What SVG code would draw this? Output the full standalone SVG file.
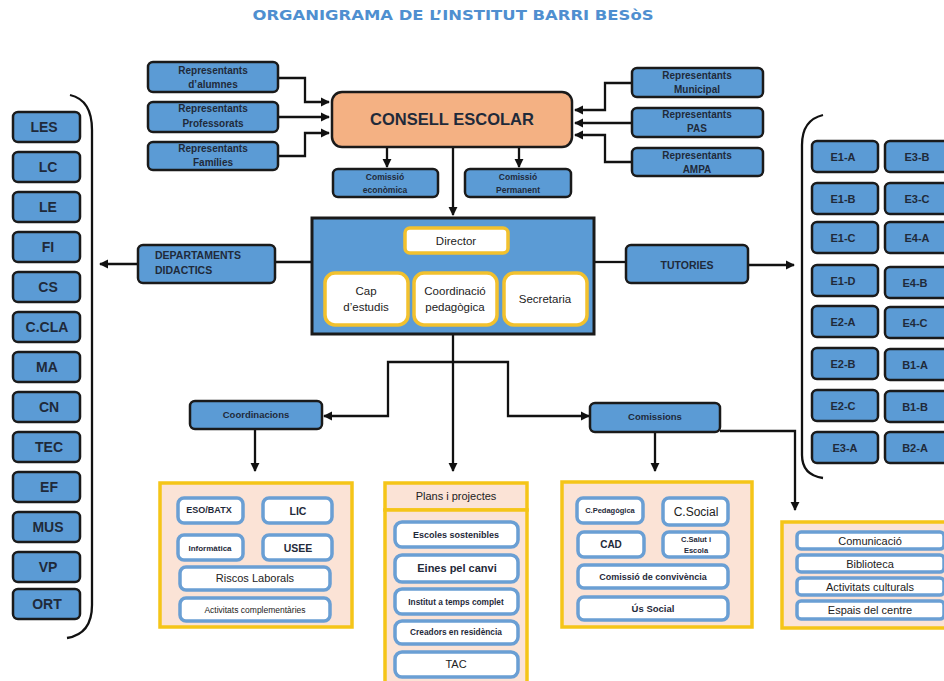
<svg xmlns="http://www.w3.org/2000/svg" width="944" height="681" viewBox="0 0 944 681">
<style>
.b{fill:#5b9bd5;stroke:#1a1a1a;stroke-width:2.5}
.t{font-family:"Liberation Sans",Arial,sans-serif;font-weight:bold;fill:#1f2a3a;text-anchor:middle}
.s{text-anchor:start}
.n{font-family:"Liberation Sans",Arial,sans-serif;fill:#222;text-anchor:middle}
.c{fill:none;stroke:#111;stroke-width:2.3}
.g{fill:#fff;stroke:#f2c12e;stroke-width:3.5}
.p{fill:#fbe3d6;stroke:#f5c518;stroke-width:3.5}
.w{fill:#fff;stroke:#6a9fd4;stroke-width:3.5}
</style>
<defs>
<marker id="ah" viewBox="0 0 10 10" refX="9" refY="5" markerWidth="4" markerHeight="4" orient="auto" markerUnits="strokeWidth"><path d="M0,0 L10,5 L0,10 z" fill="#111"/></marker>
</defs>
<rect width="944" height="681" fill="#fff"/>
<text x="453" y="20" font-family="DejaVu Sans,sans-serif" font-weight="bold" font-size="13.5" fill="#4f8fd0" text-anchor="middle" textLength="401" lengthAdjust="spacingAndGlyphs">ORGANIGRAMA DE L’INSTITUT BARRI BESòS</text>

<g id="connectors">
<path class="c" d="M278,78 H305 V102 H329" marker-end="url(#ah)"/>
<path class="c" d="M278,117 H329" marker-end="url(#ah)"/>
<path class="c" d="M278,156 H305 V133 H329" marker-end="url(#ah)"/>
<path class="c" d="M632,83 H605 V110 H575" marker-end="url(#ah)"/>
<path class="c" d="M632,123 H575" marker-end="url(#ah)"/>
<path class="c" d="M632,162 H605 V135 H575" marker-end="url(#ah)"/>
<path class="c" d="M387,147 V167" marker-end="url(#ah)"/>
<path class="c" d="M519,147 V167" marker-end="url(#ah)"/>
<path class="c" d="M453,147 V215" marker-end="url(#ah)"/>
<path class="c" d="M312,262 H275"/>
<path class="c" d="M138,264 H100" marker-end="url(#ah)"/>
<path class="c" d="M594,262 H626"/>
<path class="c" d="M748,265 H794" marker-end="url(#ah)"/>
<path class="c" d="M453,334 V471" marker-end="url(#ah)"/>
<path class="c" d="M453,362 H388 V416 H324" marker-end="url(#ah)"/>
<path class="c" d="M453,362 H508 V416 H589" marker-end="url(#ah)"/>
<path class="c" d="M255,428 V471" marker-end="url(#ah)"/>
<path class="c" d="M655,432 V471" marker-end="url(#ah)"/>
<path class="c" d="M720,431 H795 V510" marker-end="url(#ah)"/>
<path class="c" d="M70,95 Q92,100 92,130 V605 Q92,634 67,638"/>
<path class="c" d="M823,115 Q802,120 802,145 V455 Q802,475 823,478"/>
</g>

<g id="rep-alumnes"><rect class="b" x="148" y="62" width="130" height="30" rx="5"/><text class="t" x="213" y="74" font-size="10">Representants</text><text class="t" x="213" y="88" font-size="10">d’alumnes</text></g>
<g id="rep-professorats"><rect class="b" x="148" y="102" width="130" height="30" rx="5"/><text class="t" x="213" y="112" font-size="10">Representants</text><text class="t" x="213" y="127" font-size="10">Professorats</text></g>
<g id="rep-families"><rect class="b" x="148" y="142" width="130" height="28" rx="5"/><text class="t" x="213" y="152" font-size="10">Representants</text><text class="t" x="213" y="166" font-size="10">Famílies</text></g>
<g id="rep-municipal"><rect class="b" x="632" y="68" width="131" height="29" rx="5"/><text class="t" x="697" y="79" font-size="10">Representants</text><text class="t" x="697" y="93" font-size="10">Municipal</text></g>
<g id="rep-pas"><rect class="b" x="632" y="108" width="131" height="29" rx="5"/><text class="t" x="697" y="118" font-size="10">Representants</text><text class="t" x="697" y="132" font-size="10">PAS</text></g>
<g id="rep-ampa"><rect class="b" x="632" y="148" width="131" height="28" rx="5"/><text class="t" x="697" y="159" font-size="10">Representants</text><text class="t" x="697" y="173" font-size="10">AMPA</text></g>

<g id="consell"><rect x="332" y="92" width="240" height="55" rx="10" fill="#f4b183" stroke="#1a1a1a" stroke-width="2.5"/><text class="t" x="452" y="125" font-size="16.5">CONSELL ESCOLAR</text></g>
<g id="com-economica"><rect class="b" x="333" y="169" width="105" height="28" rx="5"/><text class="t" x="385" y="180" font-size="8.5">Comissió</text><text class="t" x="385" y="193" font-size="8.5">econòmica</text></g>
<g id="com-permanent"><rect class="b" x="465" y="169" width="106" height="28" rx="5"/><text class="t" x="518" y="180" font-size="8.5">Comissió</text><text class="t" x="518" y="193" font-size="8.5">Permanent</text></g>

<g id="direccio"><rect x="312" y="218" width="282" height="116" fill="#5b9bd5" stroke="#1a1a1a" stroke-width="3"/>
<g id="director"><rect class="g" x="405" y="228" width="103" height="25" rx="5"/><text class="n" x="456" y="245" font-size="11.5">Director</text></g>
<g id="cap"><rect class="g" x="325" y="273" width="83" height="52" rx="10"/><text class="n" x="366" y="295" font-size="11.5">Cap</text><text class="n" x="366" y="311" font-size="11.5">d’estudis</text></g>
<g id="coordinacio"><rect class="g" x="414" y="273" width="83" height="52" rx="10"/><text class="n" x="455" y="295" font-size="11.5">Coordinació</text><text class="n" x="455" y="311" font-size="11.5">pedagògica</text></g>
<g id="secretaria"><rect class="g" x="504" y="273" width="83" height="52" rx="10"/><text class="n" x="545" y="303" font-size="11.5">Secretaria</text></g>
</g>

<g id="departaments"><rect class="b" x="138" y="245" width="137" height="38" rx="5"/><text class="t s" x="155" y="259" font-size="10.5">DEPARTAMENTS</text><text class="t s" x="155" y="274" font-size="10.5">DIDACTICS</text></g>
<g id="tutories"><rect class="b" x="626" y="245" width="122" height="38" rx="5"/><text class="t" x="687" y="269" font-size="10.5">TUTORIES</text></g>

<g id="dept-list">
<g id="les"><rect class="b" x="13" y="112" width="67" height="30" rx="5"/><text class="t" x="44" y="132" font-size="14">LES</text></g>
<g id="lc"><rect class="b" x="13" y="152" width="67" height="30" rx="5"/><text class="t" x="48" y="172" font-size="14">LC</text></g>
<g id="le"><rect class="b" x="13" y="192" width="67" height="30" rx="5"/><text class="t" x="48" y="212" font-size="14">LE</text></g>
<g id="fi"><rect class="b" x="13" y="232" width="67" height="30" rx="5"/><text class="t" x="48" y="252" font-size="14">FI</text></g>
<g id="cs"><rect class="b" x="13" y="272" width="67" height="30" rx="5"/><text class="t" x="48" y="292" font-size="14">CS</text></g>
<g id="ccla"><rect class="b" x="13" y="312" width="67" height="30" rx="5"/><text class="t" x="47" y="332" font-size="14">C.CLA</text></g>
<g id="ma"><rect class="b" x="13" y="352" width="67" height="30" rx="5"/><text class="t" x="47" y="372" font-size="14">MA</text></g>
<g id="cn"><rect class="b" x="13" y="392" width="67" height="30" rx="5"/><text class="t" x="49" y="412" font-size="14">CN</text></g>
<g id="tec"><rect class="b" x="13" y="432" width="67" height="30" rx="5"/><text class="t" x="49" y="452" font-size="14">TEC</text></g>
<g id="ef"><rect class="b" x="13" y="472" width="67" height="30" rx="5"/><text class="t" x="49" y="492" font-size="14">EF</text></g>
<g id="mus"><rect class="b" x="13" y="512" width="67" height="30" rx="5"/><text class="t" x="48" y="532" font-size="14">MUS</text></g>
<g id="vp"><rect class="b" x="13" y="552" width="67" height="30" rx="5"/><text class="t" x="48" y="572" font-size="14">VP</text></g>
<g id="ort"><rect class="b" x="13" y="589" width="67" height="30" rx="5"/><text class="t" x="47" y="609" font-size="14">ORT</text></g>
</g>

<g id="groups-list">
<g id="e1a"><rect class="b" x="812" y="141" width="66" height="31" rx="5"/><text class="t" x="843" y="161" font-size="11">E1-A</text></g>
<g id="e1b"><rect class="b" x="812" y="183" width="66" height="31" rx="5"/><text class="t" x="843" y="203" font-size="11">E1-B</text></g>
<g id="e1c"><rect class="b" x="812" y="222" width="66" height="31" rx="5"/><text class="t" x="843" y="242" font-size="11">E1-C</text></g>
<g id="e1d"><rect class="b" x="812" y="265" width="66" height="31" rx="5"/><text class="t" x="843" y="285" font-size="11">E1-D</text></g>
<g id="e2a"><rect class="b" x="812" y="306" width="66" height="31" rx="5"/><text class="t" x="843" y="326" font-size="11">E2-A</text></g>
<g id="e2b"><rect class="b" x="812" y="348" width="66" height="31" rx="5"/><text class="t" x="843" y="368" font-size="11">E2-B</text></g>
<g id="e2c"><rect class="b" x="812" y="390" width="66" height="31" rx="5"/><text class="t" x="843" y="410" font-size="11">E2-C</text></g>
<g id="e3a"><rect class="b" x="812" y="432" width="66" height="31" rx="5"/><text class="t" x="845" y="452" font-size="11">E3-A</text></g>
<g id="e3b"><rect class="b" x="885" y="141" width="65" height="31" rx="5"/><text class="t" x="917" y="161" font-size="11">E3-B</text></g>
<g id="e3c"><rect class="b" x="885" y="183" width="65" height="31" rx="5"/><text class="t" x="917" y="203" font-size="11">E3-C</text></g>
<g id="e4a"><rect class="b" x="885" y="222" width="65" height="31" rx="5"/><text class="t" x="917" y="242" font-size="11">E4-A</text></g>
<g id="e4b"><rect class="b" x="885" y="267" width="65" height="31" rx="5"/><text class="t" x="915" y="287" font-size="11">E4-B</text></g>
<g id="e4c"><rect class="b" x="885" y="307" width="65" height="31" rx="5"/><text class="t" x="915" y="327" font-size="11">E4-C</text></g>
<g id="b1a"><rect class="b" x="885" y="349" width="65" height="31" rx="5"/><text class="t" x="915" y="369" font-size="11">B1-A</text></g>
<g id="b1b"><rect class="b" x="885" y="391" width="65" height="31" rx="5"/><text class="t" x="915" y="411" font-size="11">B1-B</text></g>
<g id="b2a"><rect class="b" x="885" y="432" width="65" height="31" rx="5"/><text class="t" x="915" y="452" font-size="11">B2-A</text></g>
</g>

<g id="coordinacions"><rect class="b" x="190" y="401" width="132" height="28" rx="5"/><text class="t" x="256" y="418" font-size="9.5">Coordinacions</text></g>
<g id="comissions"><rect class="b" x="590" y="403" width="130" height="29" rx="5"/><text class="t" x="655" y="420" font-size="9.5">Comissions</text></g>

<g id="coord-group"><rect class="p" x="160" y="483" width="192" height="144"/>
<g id="eso"><rect class="w" x="178" y="498" width="65" height="25" rx="6"/><text class="t" x="209" y="513" font-size="9">ESO/BATX</text></g>
<g id="lic"><rect class="w" x="263" y="498" width="69" height="25" rx="6"/><text class="t" x="298" y="515" font-size="10.5">LIC</text></g>
<g id="informatica"><rect class="w" x="178" y="535" width="65" height="25" rx="6"/><text class="t" x="210" y="551" font-size="8">Informàtica</text></g>
<g id="usee"><rect class="w" x="263" y="535" width="69" height="25" rx="6"/><text class="t" x="298" y="552" font-size="10.5">USEE</text></g>
<g id="riscos"><rect class="w" x="180" y="567" width="150" height="23" rx="6"/><text class="n" x="255" y="582" font-size="11">Riscos Laborals</text></g>
<g id="activitats-comp"><rect class="w" x="180" y="598" width="150" height="23" rx="6"/><text class="n" x="255" y="613" font-size="8.5">Activitats complementàries</text></g>
</g>

<g id="plans"><rect class="p" x="385" y="483" width="142" height="27"/><rect class="p" x="385" y="510" width="142" height="180"/><text class="n" x="456" y="500" font-size="11">Plans i projectes</text>
<g id="escoles"><rect class="w" x="395" y="522" width="123" height="25" rx="7"/><text class="t" x="456" y="538" font-size="9">Escoles sostenibles</text></g>
<g id="eines"><rect class="w" x="395" y="555" width="123" height="27" rx="7"/><text class="t" x="457" y="572" font-size="11">Eines pel canvi</text></g>
<g id="institut"><rect class="w" x="395" y="589" width="123" height="25" rx="7"/><text class="t" x="456" y="605" font-size="8.3">Institut a temps complet</text></g>
<g id="creadors"><rect class="w" x="395" y="621" width="123" height="23" rx="7"/><text class="t" x="456" y="635" font-size="8.3">Creadors en residència</text></g>
<g id="tac"><rect class="w" x="395" y="652" width="123" height="25" rx="7"/><text class="n" x="456" y="668" font-size="11">TAC</text></g>
</g>

<g id="com-group"><rect class="p" x="562" y="482" width="190" height="145"/>
<g id="cped"><rect class="w" x="577" y="498" width="66" height="25" rx="6"/><text class="t" x="610" y="513" font-size="7.5">C.Pedagògica</text></g>
<g id="csocial"><rect class="w" x="663" y="498" width="65" height="27" rx="6"/><text class="n" x="696" y="516" font-size="12">C.Social</text></g>
<g id="cad"><rect class="w" x="578" y="532" width="66" height="25" rx="6"/><text class="t" x="611" y="548" font-size="10">CAD</text></g>
<g id="csalut"><rect class="w" x="663" y="532" width="65" height="25" rx="6"/><text class="t" x="696" y="542" font-size="7.5">C.Salut i</text><text class="t" x="696" y="553" font-size="7.5">Escola</text></g>
<g id="convivencia"><rect class="w" x="578" y="565" width="150" height="23" rx="6"/><text class="t" x="653" y="580" font-size="9">Comissió de convivència</text></g>
<g id="us-social"><rect class="w" x="578" y="597" width="150" height="23" rx="6"/><text class="t" x="653" y="612" font-size="9.5">Ús Social</text></g>
</g>

<g id="extra-group"><rect class="p" x="782" y="522" width="170" height="106"/>
<g id="comunicacio"><rect class="w" x="797" y="532" width="147" height="17" rx="4"/><text class="n" x="870" y="545" font-size="11">Comunicació</text></g>
<g id="biblioteca"><rect class="w" x="797" y="555" width="147" height="17" rx="4"/><text class="n" x="870" y="568" font-size="11">Biblioteca</text></g>
<g id="activitats-cult"><rect class="w" x="797" y="578" width="147" height="17" rx="4"/><text class="n" x="870" y="591" font-size="11">Activitats culturals</text></g>
<g id="espais"><rect class="w" x="797" y="601" width="147" height="18" rx="4"/><text class="n" x="870" y="614" font-size="11">Espais del centre</text></g>
</g>
</svg>
